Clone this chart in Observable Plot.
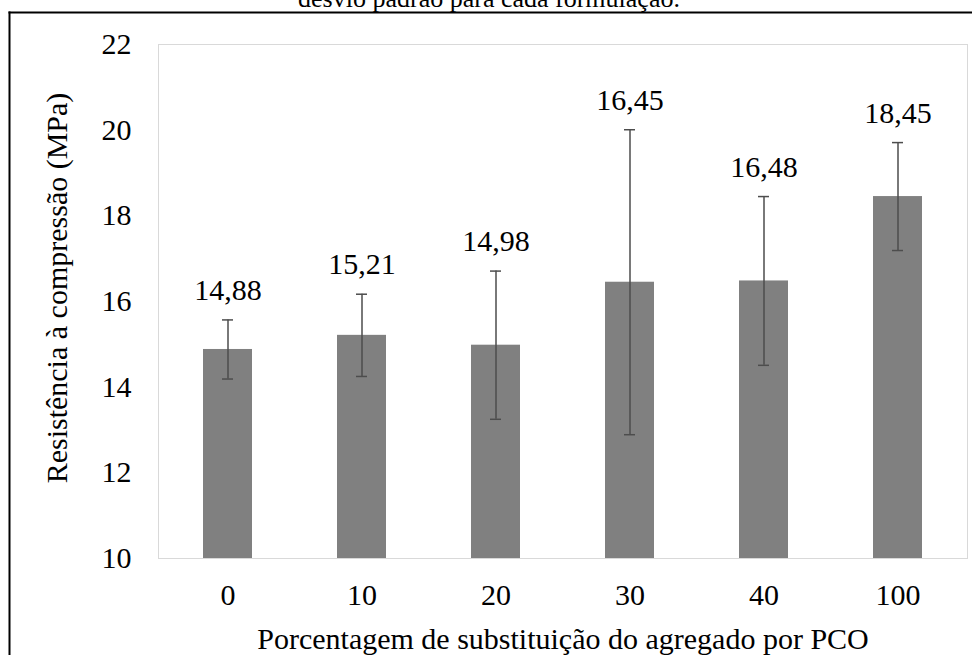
<!DOCTYPE html>
<html>
<head>
<meta charset="utf-8">
<script src="https://cdn.jsdelivr.net/npm/d3@7"></script>
<script src="https://cdn.jsdelivr.net/npm/@observablehq/plot@0.6"></script>
<style>
  html, body { margin: 0; padding: 0; background: #fff; }
  #chart { position: relative; width: 972px; height: 655px; overflow: hidden; }
</style>
</head>
<body>
<div id="chart"></div>
<script>
// ---- data ----
const categories = ["0", "10", "20", "30", "40", "100"];
const means = [14.88, 15.21, 14.98, 16.45, 16.48, 18.45];
const sds = [0.69, 0.96, 1.73, 3.56, 1.97, 1.26];
const yTicks = [10, 12, 14, 16, 18, 20, 22];
const captionText = "desvio padrão para cada formulação.";
const xLabel = "Porcentagem de substituição do agregado por PCO";
const yLabel = "Resistência à compressão (MPa)";

const data = categories.map((c, i) => ({cat: c, mean: means[i], sd: sds[i]}));
const fmt = v => v.toFixed(2).replace(".", ",");
const FONT = "Liberation Serif";
const FS = 30;

const chart = Plot.plot({
  width: 972,
  height: 655,
  marginLeft: 158,
  marginRight: 5,
  marginTop: 44,
  marginBottom: 97,
  style: {fontFamily: FONT, fontSize: FS + "px", color: "#000", background: "#fff", overflow: "visible"},
  x: {domain: categories, paddingInner: 0.636, paddingOuter: 0.318, label: null},
  y: {domain: [yTicks[0], yTicks[yTicks.length - 1]], label: null},
  marks: [
    Plot.frame({stroke: "#d9d9d9", strokeWidth: 1}),
    Plot.barY(data, {x: "cat", y1: yTicks[0], y2: "mean", fill: "#808080"}),
    Plot.ruleX(data, {x: "cat", y1: d => d.mean - d.sd, y2: d => d.mean + d.sd, stroke: "#4d4d4d", strokeWidth: 1.5}),
    Plot.tickY(data, {x: "cat", y: d => d.mean + d.sd, stroke: "#4d4d4d", strokeWidth: 1.5, insetLeft: 19, insetRight: 19}),
    Plot.tickY(data, {x: "cat", y: d => d.mean - d.sd, stroke: "#4d4d4d", strokeWidth: 1.5, insetLeft: 19, insetRight: 19}),
    Plot.text(data, {x: "cat", y: d => d.mean + d.sd, text: d => fmt(d.mean), dy: -20, lineAnchor: "bottom", fill: "#000", fontSize: FS, fontFamily: FONT}),
    Plot.axisY({ticks: yTicks, tickSize: 0, tickPadding: 27, fontSize: FS, fontFamily: FONT, label: null}),
    Plot.axisX({tickSize: 0, tickPadding: 25, fontSize: FS, fontFamily: FONT, label: null}),
    Plot.text([xLabel], {frameAnchor: "bottom", dy: 90, lineAnchor: "bottom", fontSize: FS, fontFamily: FONT, fill: "#000"})
  ]
});

document.getElementById("chart").appendChild(chart);

// y-axis title, outer figure border and the cut-off caption above it
const svg = d3.select(chart);
svg.append("text")
  .attr("transform", "translate(56,288) rotate(-90)")
  .attr("text-anchor", "middle")
  .attr("dominant-baseline", "central")
  .attr("font-family", FONT)
  .attr("font-size", FS)
  .attr("fill", "#000")
  .text(yLabel);
svg.append("line")
  .attr("x1", 9.5).attr("x2", 9.5).attr("y1", 11.5).attr("y2", 655)
  .attr("stroke", "#000").attr("stroke-width", 2);
svg.append("line")
  .attr("x1", 8.5).attr("x2", 972).attr("y1", 12.5).attr("y2", 12.5)
  .attr("stroke", "#000").attr("stroke-width", 2);
svg.append("text")
  .attr("x", 489)
  .attr("y", 7)
  .attr("text-anchor", "middle")
  .attr("font-family", FONT)
  .attr("font-size", 26)
  .attr("fill", "#000")
  .text(captionText);
</script>
</body>
</html>
